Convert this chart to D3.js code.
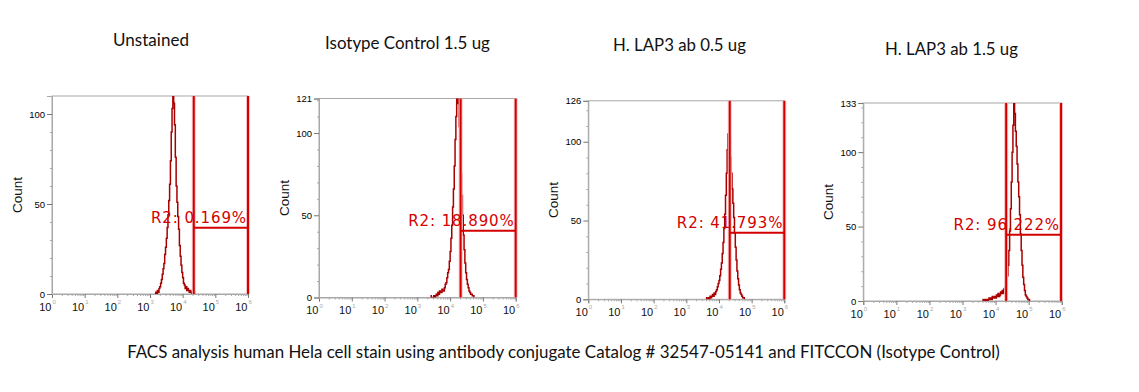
<!DOCTYPE html>
<html>
<head>
<meta charset="utf-8">
<script src="https://cdn.jsdelivr.net/npm/d3@7"></script>
<style>
  body { margin: 0; background: #fff; }
  svg { display: block; }
</style>
</head>
<body>
<svg id="chart" width="1139" height="392"></svg>
<script>
// panel titles + gate text
const titles = ["Unstained", "Isotype Control 1.5 ug", "H. LAP3 ab 0.5 ug", "H. LAP3 ab 1.5 ug"];
const gateLabels = ["R2: 0.169%", "R2: 18.890%", "R2: 41.793%", "R2: 96.222%"];
const caption = "FACS analysis human Hela cell stain using antibody conjugate Catalog # 32547-05141 and FITCCON (Isotype Control)";

// y axis max and the label printed at the top (first panel has none)
const yMaxes = [110, 121, 126, 133];
const yTopLabels = [null, 121, 126, 133];
const yTicks = [0, 50, 100];

// gates, in log10 units of the fluorescence channel, level in counts
const gateFrom = [4.34, 4.32, 4.33, 4.32];
const gateTo = [6, 6, 6, 5.98];
const gateLevel = [36.8, 40.6, 42.3, 44.5];

// histograms: counts per bin, bins are 0.025 decades wide
const binStep = 0.025;
const binStart = [3.15, 3.40, 3.60, 3.60];
const countsUnstained = [0, 1, 0, 2, 1, 3, 4, 6, 8, 11, 14, 17, 22, 26, 31, 37, 44, 52, 61, 74, 90, 103, 113,
  106, 94, 76, 60, 51, 43, 36, 27, 21, 16, 12, 9, 6, 5, 3, 4, 2, 3, 2, 1, 2, 1, 0, 1, 0, 1, 0, 0];
const countsIsotype = [1, 0, 0, 0, 1, 0, 1, 2, 1, 3, 2, 4, 3, 3, 5, 4, 4, 6, 8, 9, 12, 15, 17, 22, 28, 36, 44, 55,
  66, 80, 96, 110, 124, 118, 124, 104, 88, 75, 62, 50, 38, 29, 21, 15, 11, 8, 6, 4, 3, 2, 2, 1, 1, 0];
const countsLap05 = [1, 0, 0, 1, 0, 2, 1, 2, 3, 2, 4, 3, 5, 6, 8, 10, 12, 15, 19, 23, 29, 36, 45, 54, 66, 80, 95,
  105, 108, 101, 90, 80, 70, 61, 52, 42, 33, 25, 18, 13, 9, 6, 4, 3, 2, 1, 1, 0];
const countsLap15 = [1, 0, 0, 1, 0, 1, 0, 1, 2, 1, 2, 1, 3, 2, 2, 3, 2, 4, 3, 5, 3, 4, 6, 5, 7, 5, 8, 9, 10, 12,
  17, 24, 34, 47, 62, 80, 100, 118, 136, 126, 114, 104, 92, 80, 70, 58, 45, 34, 24, 16, 11, 7, 4, 3, 2, 1, 1, 0];
const allCounts = [countsUnstained, countsIsotype, countsLap05, countsLap15];

// where each plot sits in the picture
const panels = [
  {x0: 52, x1: 248, y0: 96, y1: 294, tx: 151, ty: 46, tw: 76},
  {x0: 319, x1: 515.7, y0: 98.5, y1: 297.5, tx: 407.5, ty: 49, tw: 165},
  {x0: 588.3, x1: 784.3, y0: 100.8, y1: 299.3, tx: 679.5, ty: 51, tw: 133},
  {x0: 863.3, x1: 1061.7, y0: 103, y1: 301, tx: 951.5, ty: 55, tw: 133}
];

const svg = d3.select("#chart");
const histColor = "#a80000", gateColor = "#d40000", frameColor = "#a8a8a8";
const titleFont = "Lato, 'Open Sans', sans-serif";
const tickFont = "'Liberation Sans', Arial, sans-serif";

function fitText(sel, width) {
  // scale the font so the text runs to the measured width
  const w = sel.node().getComputedTextLength();
  const fs = parseFloat(sel.attr("font-size"));
  sel.attr("font-size", fs * width / w);
}

panels.forEach((p, k) => {
  const g = svg.append("g");
  const x = d3.scaleLog().domain([1, 1e6]).range([p.x0, p.x1]);
  const y = d3.scaleLinear().domain([0, yMaxes[k]]).range([p.y1, p.y0]);

  // title
  const t = g.append("text")
    .attr("x", p.tx).attr("y", p.ty)
    .attr("text-anchor", "middle")
    .attr("font-family", titleFont)
    .attr("font-size", 16)
    .attr("fill", "#111")
    .text(titles[k]);
  fitText(t, p.tw);

  // frame
  g.append("rect")
    .attr("x", p.x0).attr("y", p.y0)
    .attr("width", p.x1 - p.x0).attr("height", p.y1 - p.y0)
    .attr("fill", "none").attr("stroke", frameColor).attr("stroke-width", 1);

  // x axis, minor ticks then decades
  const minor = x.ticks().filter(v => Math.abs(Math.log10(v) - Math.round(Math.log10(v))) > 1e-6);
  const decades = d3.range(0, 7).map(e => Math.pow(10, e));
  g.append("g").attr("transform", `translate(0,${p.y1})`)
    .call(d3.axisBottom(x).tickValues(minor).tickSize(2).tickFormat(""))
    .call(a => a.select(".domain").remove())
    .call(a => a.selectAll("line").attr("stroke", frameColor));
  g.append("g").attr("transform", `translate(0,${p.y1})`)
    .call(d3.axisBottom(x).tickValues(decades).tickSize(4).tickFormat(""))
    .call(a => a.select(".domain").attr("stroke", frameColor))
    .call(a => a.selectAll("line").attr("stroke", "#777"));
  decades.forEach((v, e) => {
    g.append("text")
      .attr("x", x(v) - 0.5).attr("y", p.y1 + 16.5)
      .attr("text-anchor", "end")
      .attr("font-family", tickFont)
      .attr("font-size", 11).attr("fill", "#111")
      .text("10");
    g.append("text")
      .attr("x", x(v) + 0.5).attr("y", p.y1 + 10)
      .attr("font-family", tickFont)
      .attr("font-size", 6).attr("fill", "#aaa")
      .text(e);
  });

  // y axis
  const minorY = d3.range(10, yMaxes[k], 10).filter(v => v % 50 !== 0);
  g.append("g").attr("transform", `translate(${p.x0},0)`)
    .call(d3.axisLeft(y).tickValues(minorY).tickSize(2).tickFormat(""))
    .call(a => a.select(".domain").remove())
    .call(a => a.selectAll("line").attr("stroke", frameColor));
  const majorY = yTopLabels[k] ? yTicks.concat([yTopLabels[k]]) : yTicks;
  g.append("g").attr("transform", `translate(${p.x0},0)`)
    .call(d3.axisLeft(y).tickValues(majorY).tickSize(5).tickPadding(2))
    .call(a => a.select(".domain").attr("stroke", frameColor))
    .call(a => a.selectAll("line").attr("stroke", "#777"))
    .call(a => a.selectAll("text")
      .attr("font-family", tickFont)
      .attr("font-size", 9.5).attr("fill", "#000"));

  g.append("text")
    .attr("transform", `translate(${p.x0 - 30},${(p.y0 + p.y1) / 2}) rotate(-90)`)
    .attr("text-anchor", "middle")
    .attr("font-family", tickFont)
    .attr("font-size", 13.5).attr("fill", "#111")
    .text("Count");

  // histogram, clipped to the plot
  const clipId = "clip" + k;
  svg.append("clipPath").attr("id", clipId)
    .append("rect").attr("x", p.x0).attr("y", p.y0)
    .attr("width", p.x1 - p.x0).attr("height", p.y1 - p.y0);
  const counts = allCounts[k];
  const pts = counts.map((c, i) => ({v: binStart[k] + i * binStep, c: c}));
  const line = d3.line()
    .x(d => x(Math.pow(10, d.v)))
    .y(d => y(d.c))
    .curve(d3.curveStepAfter);
  g.append("path")
    .datum(pts)
    .attr("clip-path", `url(#${clipId})`)
    .attr("fill", "none")
    .attr("stroke", histColor)
    .attr("stroke-width", 1.5)
    .attr("d", line);

  // gate
  const gx0 = x(Math.pow(10, gateFrom[k])), gx1 = x(Math.pow(10, gateTo[k]));
  const gy = y(gateLevel[k]);
  [["#f6c0c0", 4], [gateColor, 2]].forEach(([col, w]) => {
    [gx0, gx1].forEach(gx => {
      g.append("line")
        .attr("x1", gx).attr("x2", gx)
        .attr("y1", p.y0).attr("y2", p.y1)
        .attr("stroke", col).attr("stroke-width", w);
    });
  });
  g.append("line")
    .attr("x1", gx0).attr("x2", gx1)
    .attr("y1", gy).attr("y2", gy)
    .attr("stroke", gateColor).attr("stroke-width", 2);
  g.append("text")
    .attr("x", gx1 - 1).attr("y", gy - 5)
    .attr("text-anchor", "end")
    .attr("font-family", "'DejaVu Sans', Verdana, sans-serif")
    .attr("font-size", 15).attr("letter-spacing", 0.9)
    .attr("fill", gateColor)
    .text(gateLabels[k]);
});

const cap = svg.append("text")
  .attr("x", 563.5).attr("y", 358)
  .attr("text-anchor", "middle")
  .attr("font-family", titleFont)
  .attr("font-size", 16).attr("fill", "#111")
  .text(caption);
fitText(cap, 873);
</script>
</body>
</html>
